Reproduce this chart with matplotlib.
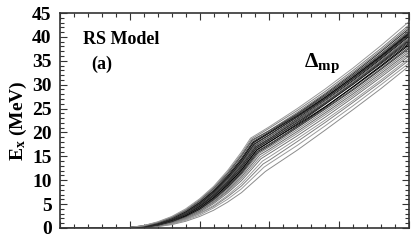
import numpy as np
import matplotlib
matplotlib.use("Agg")
import matplotlib.pyplot as plt
from matplotlib.ticker import MultipleLocator

plt.rcParams['font.family'] = 'Liberation Serif'
plt.rcParams['font.weight'] = 'bold'
plt.rcParams['mathtext.fontset'] = 'custom'
plt.rcParams['mathtext.rm'] = 'Liberation Serif:bold'
plt.rcParams['mathtext.bf'] = 'Liberation Serif:bold'
plt.rcParams['mathtext.it'] = 'Liberation Serif:bold'

# x positions shared by all curves (before and after the kink)
x_low = [0.0, 0.8, 1.0, 1.2, 1.4, 1.6, 1.8, 2.0, 2.2, 2.4, 2.6]
x_high = [3.0, 3.4, 3.8, 4.2, 4.6, 5.0]

# x of the kink for each curve
kink_x = [2.94, 2.92, 2.91, 2.90, 2.88, 2.87, 2.86, 2.85, 2.84, 2.83, 2.83, 2.82, 2.82, 2.81,
          2.81, 2.80, 2.80, 2.79, 2.79, 2.78, 2.78, 2.77, 2.77, 2.76, 2.75, 2.75, 2.74, 2.73]

# E_x (MeV) of each curve at x_low + [kink] + x_high
ex_curves = [
    [0, 0, 0, 0.1, 0.3, 0.7, 1.4, 2.4, 3.7, 5.4, 7.4, 11.8, 12.4, 16.3, 20.5, 24.8, 29.2, 33.9],
    [0, 0, 0, 0.1, 0.3, 0.8, 1.6, 2.7, 4.2, 6.0, 8.2, 12.7, 13.5, 17.3, 21.4, 25.6, 30.0, 34.5],
    [0, 0, 0, 0.1, 0.4, 0.9, 1.8, 3.0, 4.5, 6.5, 8.8, 13.4, 14.2, 18.1, 22.1, 26.3, 30.6, 35.1],
    [0, 0, 0, 0.1, 0.4, 0.9, 1.8, 3.1, 4.7, 6.8, 9.3, 14.0, 14.9, 18.7, 22.6, 26.7, 31.0, 35.5],
    [0, 0, 0, 0.1, 0.4, 1.1, 2.0, 3.3, 5.1, 7.3, 9.9, 14.5, 15.6, 19.3, 23.2, 27.3, 31.6, 36.0],
    [0, 0, 0, 0.1, 0.5, 1.1, 2.1, 3.5, 5.3, 7.6, 10.3, 14.9, 16.1, 19.8, 23.7, 27.7, 32.0, 36.4],
    [0, 0, 0, 0.1, 0.5, 1.2, 2.2, 3.6, 5.5, 7.8, 10.7, 15.3, 16.5, 20.2, 24.1, 28.1, 32.4, 36.8],
    [0, 0, 0, 0.2, 0.5, 1.2, 2.3, 3.8, 5.7, 8.1, 11.1, 15.6, 16.9, 20.6, 24.5, 28.5, 32.8, 37.2],
    [0, 0, 0, 0.2, 0.6, 1.3, 2.4, 3.9, 5.9, 8.4, 11.4, 15.8, 17.2, 21.0, 24.9, 28.9, 33.2, 37.6],
    [0, 0, 0, 0.2, 0.6, 1.4, 2.5, 4.0, 6.1, 8.6, 11.7, 16.0, 17.5, 21.3, 25.3, 29.6, 34.0, 38.6],
    [0, 0, 0, 0.2, 0.6, 1.4, 2.5, 4.1, 6.1, 8.7, 11.8, 16.1, 17.6, 21.2, 25.1, 29.1, 33.4, 37.9],
    [0, 0, 0, 0.2, 0.7, 1.5, 2.6, 4.2, 6.3, 9.0, 12.1, 16.3, 18.0, 21.8, 25.9, 30.1, 34.6, 39.2],
    [0, 0, 0, 0.2, 0.7, 1.5, 2.6, 4.3, 6.4, 9.0, 12.2, 16.4, 18.0, 21.6, 25.4, 29.5, 33.8, 38.3],
    [0, 0, 0, 0.2, 0.7, 1.5, 2.8, 4.4, 6.6, 9.3, 12.5, 16.6, 18.3, 22.1, 26.2, 30.4, 34.9, 39.6],
    [0, 0, 0, 0.3, 0.7, 1.6, 2.8, 4.5, 6.7, 9.3, 12.6, 16.7, 18.4, 22.1, 26.0, 30.1, 34.4, 38.9],
    [0, 0, 0, 0.3, 0.8, 1.6, 2.9, 4.6, 6.9, 9.6, 13.0, 16.9, 18.7, 22.6, 26.7, 30.9, 35.4, 40.1],
    [0, 0, 0, 0.3, 0.8, 1.7, 2.9, 4.7, 6.9, 9.7, 13.0, 17.0, 18.7, 22.4, 26.3, 30.4, 34.8, 39.4],
    [0, 0, 0, 0.3, 0.8, 1.7, 3.0, 4.8, 7.1, 9.9, 13.4, 17.2, 19.1, 22.9, 27.0, 31.3, 35.8, 40.5],
    [0, 0, 0.1, 0.3, 0.9, 1.8, 3.1, 4.9, 7.2, 10.0, 13.5, 17.3, 19.1, 22.7, 26.6, 30.7, 35.1, 39.8],
    [0, 0, 0.1, 0.3, 0.9, 1.8, 3.2, 5.0, 7.4, 10.3, 13.8, 17.5, 19.5, 23.3, 27.3, 31.6, 36.1, 40.9],
    [0, 0, 0.1, 0.3, 0.9, 1.9, 3.2, 5.1, 7.4, 10.4, 13.9, 17.6, 19.5, 23.2, 27.1, 31.2, 35.6, 40.3],
    [0, 0, 0.1, 0.4, 1.0, 1.9, 3.3, 5.2, 7.7, 10.6, 14.2, 17.8, 19.9, 23.7, 27.7, 32.0, 36.5, 41.3],
    [0, 0, 0.1, 0.4, 1.0, 2.0, 3.4, 5.3, 7.7, 10.7, 14.3, 17.9, 19.9, 23.5, 27.4, 31.6, 36.0, 40.7],
    [0, 0, 0.1, 0.4, 1.0, 2.1, 3.5, 5.4, 7.9, 11.0, 14.6, 18.0, 20.1, 23.9, 28.0, 32.3, 36.9, 41.7],
    [0, 0, 0.1, 0.4, 1.1, 2.1, 3.6, 5.6, 8.1, 11.3, 15.0, 18.2, 20.4, 24.2, 28.2, 32.6, 37.2, 42.1],
    [0, 0, 0.1, 0.5, 1.1, 2.2, 3.7, 5.7, 8.3, 11.4, 15.2, 18.4, 20.4, 23.9, 27.7, 31.9, 36.3, 41.0],
    [0, 0, 0.1, 0.5, 1.2, 2.3, 3.8, 5.9, 8.5, 11.7, 15.5, 18.6, 20.9, 24.6, 28.6, 33.0, 37.6, 42.5],
    [0, 0, 0.1, 0.5, 1.3, 2.4, 4.0, 6.1, 8.7, 12.0, 15.9, 18.8, 21.2, 25.0, 29.1, 33.5, 38.2, 43.2],
]

# grey level of each line (0 = black)
greys = [0.55, 0.6, 0.5, 0.6, 0.45, 0.55, 0.4, 0.5, 0.2, 0.0, 0.3, 0.1, 0.0, 0.35,
         0.15, 0.0, 0.25, 0.1, 0.4, 0.0, 0.2, 0.3, 0.05, 0.15, 0.45, 0.3, 0.5, 0.6]

fig = plt.figure(figsize=(4.16, 2.41), dpi=100)
ax = fig.add_axes([0.1442, 0.054, 0.839, 0.892])

for i in range(len(ex_curves)):
    xs = x_low + [kink_x[i]] + x_high
    g = greys[i]
    ax.plot(xs, ex_curves[i], lw=0.7, color=(g, g, g))

ax.set_xlim(0, 5)
ax.set_ylim(0, 45)
ax.xaxis.set_major_locator(MultipleLocator(1))
ax.xaxis.set_minor_locator(MultipleLocator(0.2))
ax.yaxis.set_major_locator(MultipleLocator(5))
ax.yaxis.set_minor_locator(MultipleLocator(1))
ax.tick_params(which='both', direction='in', top=True, right=True, color='#333333', width=0.8)
ax.tick_params(which='major', length=5)
ax.tick_params(which='minor', length=2.7)
ax.tick_params(axis='x', labelbottom=False)
ax.tick_params(axis='y', labelsize=14, pad=6)
for s in ax.spines.values():
    s.set_linewidth(1.2)
    s.set_color('#333333')

ax.set_ylabel(r'$\mathbf{E_x}$ (MeV)', fontsize=14, fontweight='bold', labelpad=2)
ax.text(0.33, 39.5, 'RS Model', fontsize=13, fontweight='bold', va='center')
ax.text(0.45, 34.3, '(a)', fontsize=13, fontweight='bold', va='center')
ax.text(3.5, 34.5, r'$\Delta_{\mathbf{mp}}$', fontsize=15.5, va='center')

fig.savefig("out.png")
